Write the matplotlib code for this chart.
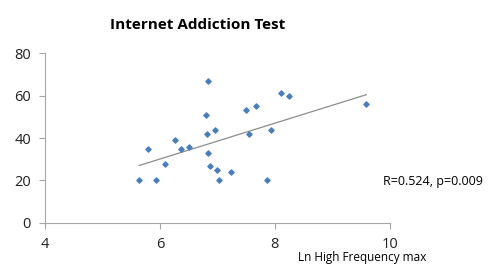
import numpy as np
import matplotlib
matplotlib.use("Agg")
import matplotlib.pyplot as plt

plt.rcParams['font.family'] = ['Open Sans', 'DejaVu Sans']

# data
ln_hf_max = [5.64, 5.79, 5.93, 6.08, 6.27, 6.37, 6.51, 6.83, 6.80, 6.82, 6.96, 6.84,
             6.87, 6.99, 7.03, 7.23, 7.49, 7.67, 7.55, 7.94, 7.86, 8.10, 8.24, 9.59]
iat_score = [20, 35, 20, 28, 39, 35, 36, 67, 51, 42, 44, 33,
             27, 25, 20, 24, 53, 55, 42, 44, 20, 61, 60, 56]
stats_text = "R=0.524, p=0.009"

fig = plt.figure(figsize=(4.88, 2.67), dpi=100)
ax = fig.add_axes([0.092, 0.165, 0.707, 0.636])

ax.scatter(ln_hf_max, iat_score, marker="D", s=7, color="#4a7ebb", zorder=3)

# linear trend line over the data range
coef = np.polyfit(ln_hf_max, iat_score, 1)
xs = np.array([min(ln_hf_max), max(ln_hf_max)])
ax.plot(xs, np.polyval(coef, xs), color="#8c8c8c", lw=0.9)

ax.set_xlim(4, 10)
ax.set_ylim(0, 80)
ax.set_xticks([4, 6, 8, 10])
ax.set_yticks([0, 20, 40, 60, 80])
for s in ["top", "right"]:
    ax.spines[s].set_visible(False)
for s in ["left", "bottom"]:
    ax.spines[s].set_color("#a6a6a6")
ax.tick_params(colors="#a6a6a6", labelcolor="#222222", labelsize=10.5, length=4, pad=6)

fig.text(0.404, 0.905, "Internet Addiction Test", ha="center", va="center",
         fontsize=11, fontweight="bold")
fig.text(0.742, 0.034, "Ln High Frequency max", ha="center", va="center", fontsize=8.5)
fig.text(0.887, 0.322, stats_text, ha="center", va="center", fontsize=9)

fig.savefig("out.png", dpi=100)
